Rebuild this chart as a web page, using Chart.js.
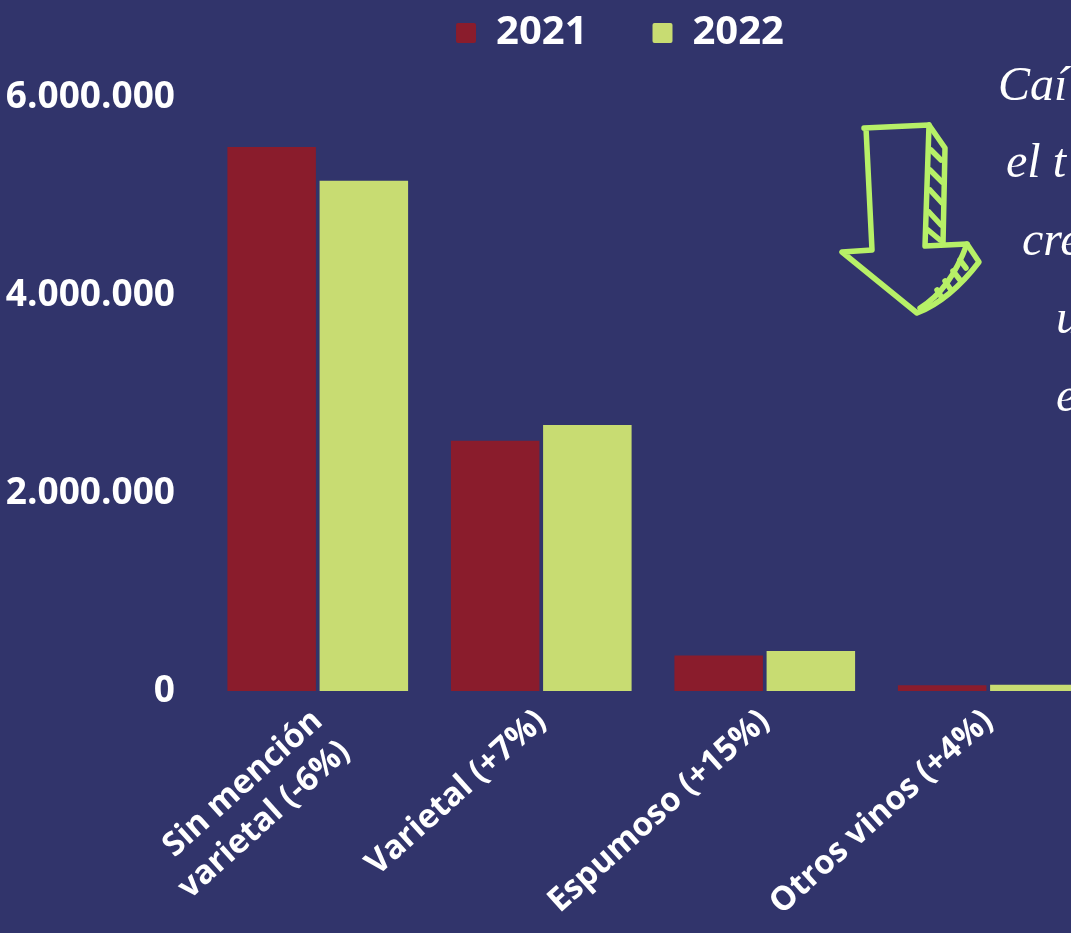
<!DOCTYPE html>
<html>
<head>
<meta charset="utf-8">
<title>Vinos 2021 - 2022</title>
<script src="https://cdn.jsdelivr.net/npm/chart.js@4.4.0/dist/chart.umd.min.js"></script>
<style>
html, body { margin:0; padding:0; overflow:hidden; background:#31346B; width:1071px; height:933px; }
#wrap { position:absolute; left:0; top:0; width:1100px; height:933px; }
#deco { position:absolute; left:0; top:0; pointer-events:none; }
</style>
</head>
<body>
<div id="wrap"><canvas id="VinosBar"></canvas></div>

<svg id="deco" width="1071" height="933">
  <g fill="none" stroke="#B7F067" stroke-width="5.5" stroke-linecap="round" stroke-linejoin="round">
    <path d="M864,128 L929,125 L925,246 L967,244 L979,262 Q950,300 917,313 L842,252 L872,250 L866,128"/>
    <path d="M929,125 L945,148 L943,244"/>
    <path d="M967,244 Q950,290 920,308"/>
    <path d="M931,150 L941,160 M930,170 L942,182 M930,190 L942,203 M929,212 L941,225 M928,230 L940,240"/>
    <path d="M960,260 L966,268 M953,271 L960,280 M945,281 L951,290 M937,290 L942,298"/>
  </g>
  <g fill="#FFFFFF" font-family="'Liberation Serif', serif" font-style="italic" font-size="48">
    <text x="998" y="100">Caí</text>
    <text x="1006" y="177">el t</text>
    <text x="1022" y="255">cre</text>
    <text x="1056" y="333">u</text>
    <text x="1056" y="411">e</text>
  </g>
</svg>

<script>
var categories = [['Sin mención', 'varietal (-6%)'], 'Varietal (+7%)', 'Espumoso (+15%)', 'Otros vinos (+4%)'];
var values2021 = [5500000, 2530000, 358000, 58000];
var values2022 = [5160000, 2690000, 405000, 62000];
var yTicks = [0, 2000000, 4000000, 6000000];

function formatMiles(v) {
    return String(v).replace(/\B(?=(\d{3})+(?!\d))/g, '.');
}

// la leyenda va centrada sobre todo el diseño, no solo sobre el canvas
var legendShift = {
    id: 'legendShift',
    afterLayout: function(chart) {
        chart.legend.left += 70;
        chart.legend.right += 70;
    }
};

function drawChart() {
    var ctx = document.getElementById('VinosBar').getContext('2d');
    new Chart(ctx, {
        type: 'bar',
        data: {
            labels: categories,
            datasets: [{
                label: '2021',
                data: values2021,
                backgroundColor: '#8A1C2C',
                barPercentage: 0.96,
                categoryPercentage: 0.825
            }, {
                label: '2022',
                data: values2022,
                backgroundColor: '#C8DC72',
                barPercentage: 0.96,
                categoryPercentage: 0.825
            }]
        },
        plugins: [legendShift],
        options: {
            responsive: true,
            maintainAspectRatio: false,
            animation: false,
            layout: {
                padding: { left: 0, top: -52, right: 0, bottom: 0 }
            },
            plugins: {
                tooltip: { enabled: false },
                legend: {
                    position: 'top',
                    labels: {
                        color: '#FFFFFF',
                        boxWidth: 20,
                        boxHeight: 20,
                        padding: 65,
                        useBorderRadius: true,
                        borderRadius: 2,
                        font: { family: "'Open Sans', sans-serif", size: 40, weight: 'bold' }
                    }
                }
            },
            scales: {
                x: {
                    grid: { display: false, drawTicks: false },
                    border: { display: false },
                    ticks: {
                        color: '#FFFFFF',
                        minRotation: 42,
                        maxRotation: 42,
                        padding: 10,
                        font: { family: "'Open Sans', sans-serif", size: 33, weight: 'bold', lineHeight: 1.25 }
                    },
                    afterFit: function(scale) { scale.height = 242; }
                },
                y: {
                    min: 0,
                    max: 6350000,
                    grid: { display: false, drawTicks: false },
                    border: { display: false },
                    afterBuildTicks: function(scale) {
                        scale.ticks = yTicks.map(function(v) { return { value: v }; });
                    },
                    ticks: {
                        color: '#FFFFFF',
                        padding: 31,
                        font: { family: "'Open Sans', sans-serif", size: 37, weight: 'bold' },
                        callback: function(v) { return formatMiles(v); }
                    },
                    afterFit: function(scale) { scale.width = 206; }
                }
            }
        }
    });
}

window.addEventListener('load', drawChart);
</script>
</body>
</html>
